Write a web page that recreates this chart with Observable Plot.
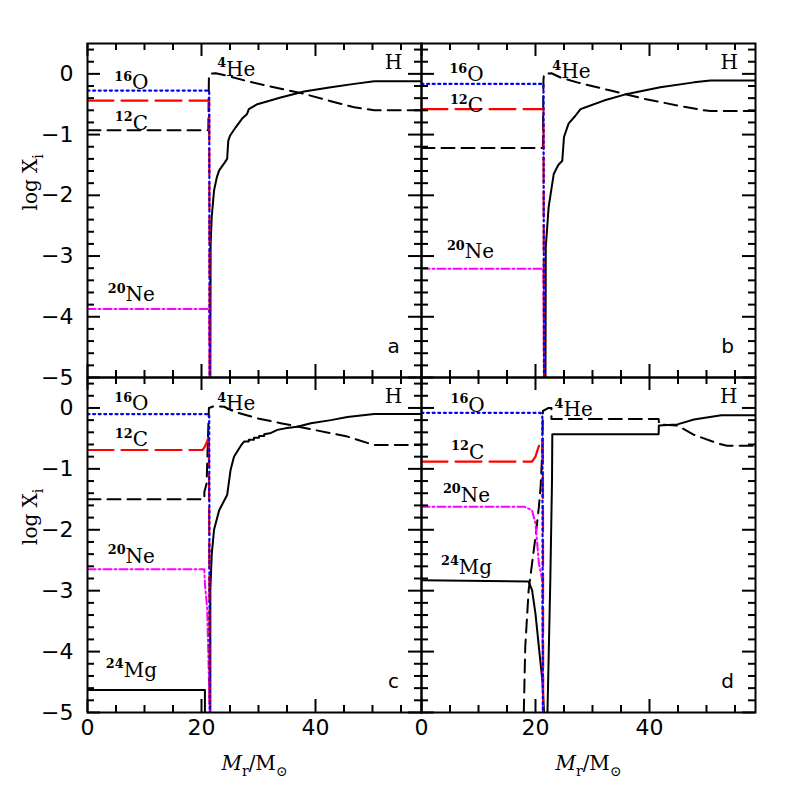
<!DOCTYPE html>
<html><head><meta charset="utf-8">
<script src="https://cdn.jsdelivr.net/npm/d3@7"></script>
<script src="https://cdn.jsdelivr.net/npm/@observablehq/plot@0.6"></script>
<style>
html,body{margin:0;padding:0;background:#fff;}
#chart{position:relative;width:797px;height:797px;background:#fff;}
#chart svg{position:absolute;left:0;top:0;}
</style></head><body><div id="chart"></div>
<script>
// ---------- axes / ticks ----------
const xDomain = [0, 58.6];
const yDomain = [-5, 0.5];
const xMajorTicks = [0, 20, 40];
const xMinorTicks = [5, 10, 15, 25, 30, 35, 45, 50, 55];
const yMajorTicks = [0, -1, -2, -3, -4, -5];
const yMinorTicks = [0.4, 0.2, -0.2, -0.4, -0.6, -0.8, -1.2, -1.4, -1.6, -1.8, -2.2, -2.4, -2.6, -2.8,
  -3.2, -3.4, -3.6, -3.8, -4.2, -4.4, -4.6, -4.8];
const xTickLabels = [0, 20, 40];
const yTickLabels = [0, -1, -2, -3, -4, -5];

// ---------- panel a ----------
const a_O16 = [[0,-0.275],[21.35,-0.275],[21.45,-5]];
const a_C12 = [[0,-0.44],[21.35,-0.44],[21.45,-5]];
const a_Ne20 = [[0,-3.87],[21.35,-3.87],[21.45,-5]];
const a_He4 = [[0,-0.93],[21.2,-0.93],[21.3,-0.05],[21.4,0.0],[22.5,0.01],[24.5,-0.03],[28,-0.12],[32.7,-0.22],[38,-0.33],[42.7,-0.45],[46.8,-0.55],[50.3,-0.6],[58.6,-0.6]];
const a_H1 = [[21.55,-5],[21.6,-2.8],[21.8,-2.35],[22.2,-1.92],[22.7,-1.7],[23.1,-1.59],[24.0,-1.47],[24.5,-1.40],[24.7,-1.1],[25.0,-1.02],[26.0,-0.88],[27.1,-0.74],[28.0,-0.66],[28.3,-0.58],[29.8,-0.50],[33.9,-0.39],[38.0,-0.29],[42.7,-0.22],[46.8,-0.165],[50.3,-0.12],[58.6,-0.12]];

// ---------- panel b ----------
const b_O16 = [[0,-0.165],[21.4,-0.165],[21.5,-5]];
const b_C12 = [[0,-0.58],[21.4,-0.58],[21.5,-5]];
const b_Ne20 = [[0,-3.21],[21.4,-3.21],[21.5,-5]];
const b_He4 = [[0,-1.22],[21.3,-1.22],[21.4,-0.1],[21.5,0.0],[22.8,0.01],[24.4,-0.06],[27.3,-0.14],[33.2,-0.275],[39.0,-0.41],[44.9,-0.52],[49.5,-0.60],[50.7,-0.61],[58.6,-0.61]];
const b_H1 = [[21.75,-5],[21.8,-2.86],[22.3,-2.2],[23.2,-1.65],[24.0,-1.5],[24.7,-1.43],[25.0,-1.04],[25.8,-0.82],[27.0,-0.69],[27.9,-0.58],[28.8,-0.55],[32.0,-0.44],[36.1,-0.33],[41.9,-0.22],[47.8,-0.14],[50.7,-0.11],[58.6,-0.11]];

// ---------- panel c ----------
const c_O16 = [[0,-0.10],[21.35,-0.10],[21.45,-5]];
const c_C12 = [[0,-0.69],[20.2,-0.69],[20.6,-0.63],[21.0,-0.55],[21.3,-0.45],[21.45,-5]];
const c_Ne20 = [[0,-2.65],[20.5,-2.65],[20.6,-2.88],[21.0,-3.3],[21.45,-5]];
const c_He4 = [[0,-1.50],[20.5,-1.50],[20.5,-1.38],[20.9,-1.24],[21.1,-0.6],[21.3,0.0],[22.2,0.03],[24.0,0.02],[25.7,-0.06],[29.8,-0.17],[33.9,-0.25],[39.8,-0.36],[45.6,-0.47],[50.3,-0.61],[58.6,-0.61]];
const c_Mg24 = [[0,-4.63],[20.6,-4.63],[20.6,-5]];
const c_H1 = [[21.55,-5],[21.55,-2.99],[21.8,-2.4],[22.2,-2.0],[23.1,-1.68],[24.5,-1.43],[25.1,-1.02],[25.7,-0.80],[26.9,-0.62],[27.5,-0.55],[28.3,-0.55],[28.3,-0.52],[29.2,-0.52],[29.2,-0.49],[30.1,-0.49],[30.1,-0.46],[31.0,-0.46],[31.0,-0.43],[32.2,-0.41],[33.3,-0.36],[35.0,-0.33],[36.8,-0.31],[39.2,-0.25],[42.7,-0.20],[45.6,-0.15],[50.3,-0.10],[58.6,-0.10]];

// ---------- panel d ----------
const d_O16 = [[0,-0.08],[20.9,-0.08],[21.2,-0.14],[21.3,-5]];
const d_C12 = [[0,-0.88],[19.4,-0.88],[20.0,-0.80],[20.5,-0.65],[20.9,-0.55],[21.3,-0.5],[21.35,-5]];
const d_Ne20 = [[0,-1.62],[18.0,-1.62],[19.4,-1.68],[20.0,-1.9],[20.6,-2.55],[21.2,-2.83],[21.3,-5]];
const d_Mg24 = [[0,-2.83],[18.8,-2.85],[19.4,-2.99],[20.0,-3.38],[20.6,-3.93],[21.2,-4.47],[21.5,-5]];
const d_He4 = [[17.95,-5],[18.2,-3.93],[18.8,-2.99],[19.4,-2.55],[20.0,-2.12],[20.6,-1.62],[20.9,-1.29],[21.2,-0.7],[21.3,-0.05],[22.3,0.0],[22.8,0.0],[22.8,-0.18],[41.6,-0.18],[41.7,-0.27],[44.9,-0.29],[47.8,-0.44],[51.9,-0.58],[53.6,-0.62],[58.6,-0.62]];
const d_H1 = [[22.1,-5],[22.6,-2.83],[22.9,-1.18],[22.95,-0.43],[41.6,-0.43],[41.65,-0.29],[44.9,-0.27],[47.8,-0.19],[52.6,-0.12],[58.6,-0.12]];

// ---------- styles ----------
const styles = {
  H1:   {stroke: "#000", strokeWidth: 2},
  Mg24: {stroke: "#000", strokeWidth: 2},
  He4:  {stroke: "#000", strokeWidth: 2, strokeDasharray: "13,7"},
  Ne20: {stroke: "#ff00ff", strokeWidth: 2, strokeDasharray: "8,3,2,3"},
  C12:  {stroke: "#ff0000", strokeWidth: 2.2, strokeDasharray: "26,8"},
  O16:  {stroke: "#0000ff", strokeWidth: 2.2, strokeDasharray: "2,3.6"}
};

const serif = "'DejaVu Serif', 'Liberation Serif', serif";
const sans = "'DejaVu Sans', 'Liberation Sans', sans-serif";

const panels = [
  {letter: "a", left: 87, top: 43, right: 421, bottom: 377, yLabels: true, xLabels: false,
   series: {H1: a_H1, He4: a_He4, Ne20: a_Ne20, C12: a_C12, O16: a_O16},
   labels: [["^{16}O", 7.7, -0.03], ["^{12}C", 7.7, -0.70], ["^{4}He", 26.1, 0.19], ["H", 53.7, 0.19], ["^{20}Ne", 7.7, -3.52]]},
  {letter: "b", left: 421, top: 43, right: 755, bottom: 377, yLabels: false, xLabels: false,
   series: {H1: b_H1, He4: b_He4, Ne20: b_Ne20, C12: b_C12, O16: b_O16},
   labels: [["^{16}O", 7.9, 0.10], ["^{12}C", 7.9, -0.41], ["^{4}He", 26.3, 0.15], ["H", 54.0, 0.19], ["^{20}Ne", 8.6, -2.81]]},
  {letter: "c", left: 87, top: 377, right: 421, bottom: 712, yLabels: true, xLabels: true,
   series: {H1: c_H1, Mg24: c_Mg24, He4: c_He4, Ne20: c_Ne20, C12: c_C12, O16: c_O16},
   labels: [["^{16}O", 7.7, 0.18], ["^{12}C", 7.7, -0.41], ["^{4}He", 26.1, 0.18], ["H", 53.7, 0.18], ["^{20}Ne", 7.7, -2.32], ["^{24}Mg", 7.7, -4.19]]},
  {letter: "d", left: 421, top: 377, right: 755, bottom: 712, yLabels: false, xLabels: true,
   series: {H1: d_H1, Mg24: d_Mg24, He4: d_He4, Ne20: d_Ne20, C12: d_C12, O16: d_O16},
   labels: [["^{16}O", 8.1, 0.16], ["^{12}C", 8.1, -0.61], ["^{4}He", 26.7, 0.08], ["H", 53.9, 0.18], ["^{20}Ne", 7.9, -1.32], ["^{24}Mg", 7.9, -2.5]]}
];

const fmt = d3.format("d");
const chart = document.getElementById("chart");

function richify(svg) {
  d3.select(svg).selectAll("text").each(function () {
    const s = this.textContent;
    if (!/[\^_!]\{/.test(s)) return;
    const base = parseFloat(getComputedStyle(this).fontSize) || 18;
    const tokens = [...s.matchAll(/([\^_!])\{([^}]*)\}|([^\^_!]+)/g)];
    this.textContent = "";
    this.removeAttribute("dy");
    const b0 = 0.35 * base;
    let cur = 0;
    for (const m of tokens) {
      let txt, off = 0, size = base, italic = false, bold = false;
      if (m[1] === "^") { txt = m[2]; off = -0.42 * base; size = 0.64 * base; bold = true; }
      else if (m[1] === "_") { txt = m[2]; off = 0.3 * base; size = 0.7 * base; }
      else if (m[1] === "!") { txt = m[2]; italic = true; }
      else txt = m[3];
      const t = d3.select(this).append("tspan").text(txt)
        .attr("font-size", size).attr("dy", (b0 + off) - cur);
      cur = b0 + off;
      if (italic) t.attr("font-style", "italic");
      if (bold) t.attr("font-weight", "bold");
    }
  });
}

for (const P of panels) {
  const W = P.right - P.left, H = P.bottom - P.top;
  const order = ["H1", "Mg24", "He4", "Ne20", "C12", "O16"];
  const marks = [];
  for (const k of order) {
    if (!P.series[k]) continue;
    marks.push(Plot.line(P.series[k], {x: d => d[0], y: d => d[1], ...styles[k], clip: true}));
  }
  // inward ticks on all four sides
  marks.push(
    Plot.tickY(yMajorTicks, {y: d => d, insetRight: W - 13, strokeWidth: 2}),
    Plot.tickY(yMajorTicks, {y: d => d, insetLeft: W - 13, strokeWidth: 2}),
    Plot.tickY(yMinorTicks, {y: d => d, insetRight: W - 7, strokeWidth: 2}),
    Plot.tickY(yMinorTicks, {y: d => d, insetLeft: W - 7, strokeWidth: 2}),
    Plot.tickX(xMajorTicks, {x: d => d, insetBottom: H - 13, strokeWidth: 2}),
    Plot.tickX(xMajorTicks, {x: d => d, insetTop: H - 13, strokeWidth: 2}),
    Plot.tickX(xMinorTicks, {x: d => d, insetBottom: H - 7, strokeWidth: 2}),
    Plot.tickX(xMinorTicks, {x: d => d, insetTop: H - 7, strokeWidth: 2}),
    Plot.frame({strokeWidth: 2})
  );
  // species labels
  marks.push(Plot.text(P.labels, {x: d => d[1], y: d => d[2], text: d => d[0],
    fontSize: 20, fontFamily: serif, textAnchor: "middle", fill: "#000"}));
  // panel letter
  marks.push(Plot.text([P.letter], {frameAnchor: "bottom-right", dx: -28, dy: -25,
    fontSize: 20, fontFamily: sans, textAnchor: "middle"}));
  if (P.yLabels) {
    marks.push(Plot.text(yTickLabels, {y: d => d, text: d => fmt(d), frameAnchor: "left", dx: -14,
      textAnchor: "end", fontSize: 22, fontFamily: sans}));
    marks.push(Plot.text(["log X_{i}"], {frameAnchor: "left", dx: -64, rotate: -90,
      fontSize: 20, fontFamily: serif}));
  }
  if (P.xLabels) {
    marks.push(Plot.text(xTickLabels, {x: d => d, text: d => fmt(d), frameAnchor: "bottom", dy: 22,
      fontSize: 22, fontFamily: sans}));
    marks.push(Plot.text(["!{M}_{r}/M_{⊙}"], {frameAnchor: "bottom", dy: 50,
      fontSize: 20, fontFamily: serif}));
  }
  const svg = Plot.plot({
    width: 797, height: 797,
    marginLeft: P.left, marginTop: P.top, marginRight: 797 - P.right, marginBottom: 797 - P.bottom,
    x: {domain: xDomain, axis: null},
    y: {domain: yDomain, axis: null},
    style: {background: "transparent", overflow: "visible", color: "#000"},
    marks
  });
  chart.appendChild(svg);
  richify(svg);
}
</script></body></html>
